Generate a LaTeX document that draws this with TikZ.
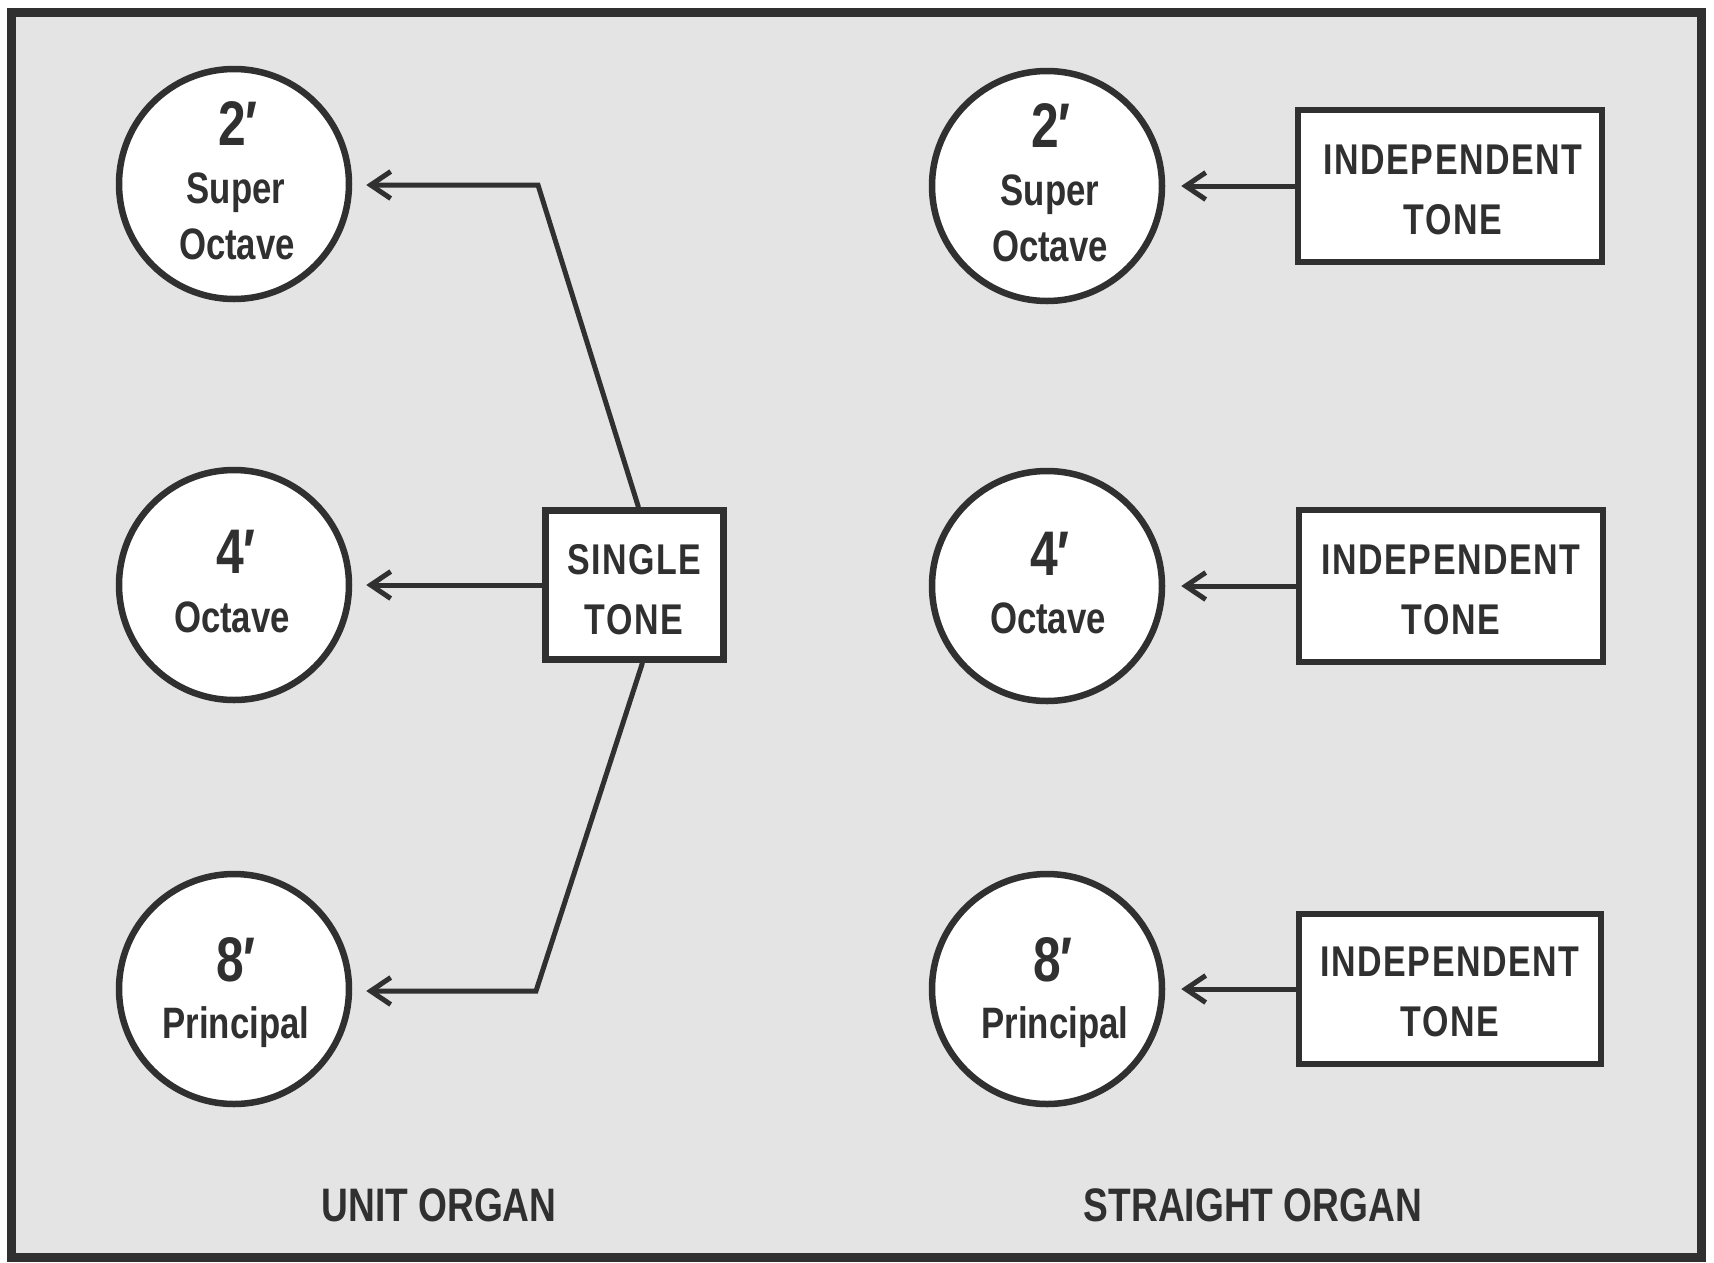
\documentclass[tikz,border=0pt]{standalone}
\usepackage{fontspec}
\setmainfont{Liberation Sans}[FakeStretch=0.79]
\newfontfamily\boxfont{Liberation Sans}[FakeStretch=0.79,LetterSpace=3.5]
\usetikzlibrary{arrows.meta}
\definecolor{bg}{HTML}{E4E4E4}
\definecolor{ink}{HTML}{303030}
\begin{document}
\begin{tikzpicture}[x=1pt,y=-1pt,
  pipe/.style={circle, draw=ink, fill=white, line width=6.5pt, minimum size=230pt, inner sep=0pt},
  tonebox/.style={rectangle, draw=ink, fill=white, line width=6.5pt, inner sep=0pt},
  numtxt/.style={anchor=base, text=ink, font=\fontsize{63}{63}\selectfont\bfseries, inner sep=0pt},
  wordtxt/.style={anchor=base, text=ink, font=\fontsize{44}{44}\selectfont\bfseries, inner sep=0pt},
  boxtxt/.style={anchor=base, text=ink, font=\boxfont\fontsize{43}{43}\selectfont\bfseries, inner sep=0pt},
  captxt/.style={anchor=base, text=ink, font=\fontsize{47}{47}\selectfont\bfseries, inner sep=0pt},
  conn/.style={draw=ink, line width=5pt, line join=miter, -{Straight Barb[length=20pt,width=27pt,line width=5pt]}},
  ]
\useasboundingbox (0,0) rectangle (1714,1262);
\fill[white] (0,0) rectangle (1714,1262);
\draw[ink, line width=9pt, fill=bg] (11,12) rectangle (1701,1257);

% unit organ circles
\node[pipe] (u2) at (234,184) {};
\node[pipe] (u4) at (234,585) {};
\node[pipe] (u8) at (234,989) {};
\node[numtxt] (u2a) at (238,145) {2′};
\node[wordtxt] (u2b) at (236,203) {Super};
\node[wordtxt] (u2c) at (237,259) {Octave};
\node[numtxt] (u4a) at (236,573) {4′};
\node[wordtxt] (u4b) at (232,632) {Octave};
\node[numtxt] (u8a) at (236,981) {8′};
\node[wordtxt] (u8b) at (236,1038) {Principal};

% single tone box
\node[tonebox, minimum width=178pt, minimum height=149pt] (st) at (634.5,585) {};
\node[boxtxt] (sta) at (634,574) {SINGLE};
\node[boxtxt] (stb) at (634,634) {TONE};

\coordinate (kt) at (538,185);
\coordinate (kb) at (536,991);
\draw[conn, shorten >=14pt] ([xshift=4pt]st.north) -- (kt) -- (u2.east |- kt);
\draw[conn, shorten >=14pt] (st.west) -- (u4.east);
\draw[conn, shorten >=14pt] ([xshift=8pt]st.south) -- (kb) -- (u8.east |- kb);

% straight organ circles
\node[pipe] (s2) at (1047,186) {};
\node[pipe] (s4) at (1047,586) {};
\node[pipe] (s8) at (1047,989) {};
\node[numtxt] (s2a) at (1051,147) {2′};
\node[wordtxt] (s2b) at (1050,205) {Super};
\node[wordtxt] (s2c) at (1050,261) {Octave};
\node[numtxt] (s4a) at (1050,575) {4′};
\node[wordtxt] (s4b) at (1048,633) {Octave};
\node[numtxt] (s8a) at (1053,981) {8′};
\node[wordtxt] (s8b) at (1055,1038) {Principal};

% independent tone boxes
\node[tonebox, minimum width=304pt, minimum height=152pt] (i2) at (1450,186) {};
\node[tonebox, minimum width=304pt, minimum height=152pt] (i4) at (1451,586) {};
\node[tonebox, minimum width=302pt, minimum height=150pt] (i8) at (1450,989) {};
\node[boxtxt] (i2a) at (1453,174) {INDEPENDENT};
\node[boxtxt] (i2b) at (1453,234) {TONE};
\node[boxtxt] (i4a) at (1451,574) {INDEPENDENT};
\node[boxtxt] (i4b) at (1451,634) {TONE};
\node[boxtxt] (i8a) at (1450,976) {INDEPENDENT};
\node[boxtxt] (i8b) at (1450,1036) {TONE};

\draw[conn, shorten >=16pt] (i2.west) -- (s2.east);
\draw[conn, shorten >=16pt] (i4.west) -- (s4.east);
\draw[conn, shorten >=16pt] (i8.west) -- (s8.east);

% captions
\node[captxt] (cu) at (439,1221) {UNIT ORGAN};
\node[captxt] (cs) at (1253,1221) {STRAIGHT ORGAN};
\end{tikzpicture}
\end{document}
